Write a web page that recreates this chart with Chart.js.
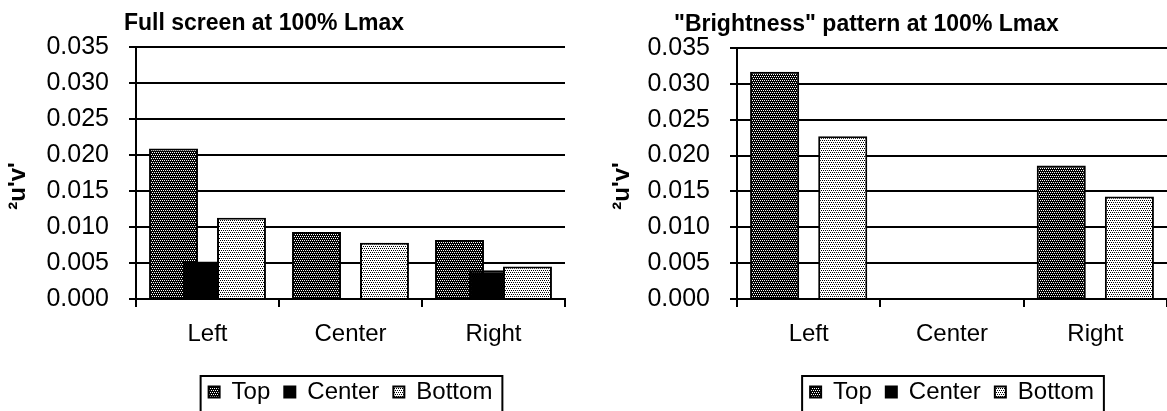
<!DOCTYPE html>
<html>
<head>
<meta charset="utf-8">
<script src="https://cdn.jsdelivr.net/npm/chart.js@4.4.1/dist/chart.umd.min.js"></script>
<style>
  html, body { margin: 0; padding: 0; background: #fff; overflow: hidden; }
  #chart1 { position: absolute; left: 0; top: 0; }
  #chart2 { position: absolute; left: 584px; top: 0; }
</style>
</head>
<body>
<canvas id="chart1" width="584" height="411"></canvas>
<canvas id="chart2" width="583" height="411"></canvas>
<script>
// data
const categories = ["Left", "Center", "Right"];
const seriesNames = ["Top", "Center", "Bottom"];

const fullTop = [0.0209, 0.0093, 0.0082];
const fullCenter = [0.0052, null, 0.0040];
const fullBottom = [0.0113, 0.0078, 0.0045];

const brightTop = [0.0317, null, 0.0186];
const brightCenter = [null, null, null];
const brightBottom = [0.0227, null, 0.0143];

const yMin = 0;
const yMax = 0.035;
const yStep = 0.005;

const fullTitle = "Full screen at 100% Lmax";
const brightTitle = "\"Brightness\" pattern at 100% Lmax";
const yAxisTitle = "²u'v'";

Chart.defaults.font.family = "'Liberation Sans', Arial, sans-serif";
Chart.defaults.color = "#000";

// small dotted fills like the old excel patterns
function dotPattern(canvas, bg, fg, dots) {
  const tile = document.createElement("canvas");
  tile.width = 4;
  tile.height = 4;
  const g = tile.getContext("2d");
  g.fillStyle = bg;
  g.fillRect(0, 0, 4, 4);
  g.fillStyle = fg;
  dots.forEach(([x, y]) => g.fillRect(x, y, 1, 1));
  return canvas.getContext("2d").createPattern(tile, "repeat");
}

// later series sit on top of earlier ones (excel overlap)
const drawInOrder = {
  id: "drawInOrder",
  beforeDatasetsDraw(chart) {
    chart.getSortedVisibleDatasetMetas().forEach((meta) => chart._drawDataset(meta));
    return false;
  },
};

// chart title, rotated y title and the frame round the legend
const captions = {
  id: "captions",
  afterDraw(chart, args, opts) {
    const ctx = chart.ctx;
    ctx.save();
    ctx.fillStyle = "#000";
    ctx.font = "bold 23px 'Liberation Sans', Arial, sans-serif";
    ctx.textAlign = "left";
    ctx.textBaseline = "alphabetic";
    ctx.fillText(opts.title, opts.titleX, opts.titleY);

    ctx.save();
    ctx.translate(opts.yTitleX, opts.yTitleY);
    ctx.rotate(-Math.PI / 2);
    ctx.textAlign = "center";
    ctx.textBaseline = "middle";
    ctx.font = "bold 24px 'Liberation Sans', Arial, sans-serif";
    ctx.fillText(opts.yTitle, 0, 0);
    ctx.restore();

    const boxes = chart.legend.legendHitBoxes;
    const left = Math.min(...boxes.map((b) => b.left)) - 8;
    const right = Math.max(...boxes.map((b) => b.left + b.width)) + 10;
    const mid = boxes[0].top + boxes[0].height / 2;
    ctx.strokeStyle = "#000";
    ctx.lineWidth = 2;
    ctx.strokeRect(left, mid - 16, right - left, 60);
    ctx.restore();
  },
};

function makeChart(id, top, center, bottom, title, layout) {
  const canvas = document.getElementById(id);
  const topFill = dotPattern(canvas, "#000", "#fff", [[0, 0], [2, 0], [1, 2], [3, 2]]);
  const bottomFill = dotPattern(canvas, "#fff", "#000", [[0, 0], [2, 0], [1, 2], [3, 2]]);
  const fills = [topFill, "#000", bottomFill];
  const values = [top, center, bottom];

  return new Chart(canvas, {
    type: "bar",
    data: {
      labels: categories,
      datasets: seriesNames.map((name, i) => ({
        label: name,
        data: values[i],
        backgroundColor: fills[i],
        borderColor: "#000",
        borderWidth: 2,
        categoryPercentage: 0.713,
        barPercentage: 1.44,
      })),
    },
    options: {
      responsive: false,
      animation: false,
      layout: {
        padding: { top: layout.top, right: layout.right, bottom: -3, left: 0 },
      },
      scales: {
        x: {
          grid: {
            drawOnChartArea: false,
            drawTicks: true,
            tickLength: 8,
            color: "#000",
            lineWidth: 2,
            offset: true,
          },
          border: { color: "#000", width: 2 },
          ticks: { color: "#000", font: { size: 24 }, padding: 13 },
          afterFit(scale) {
            scale.height = 67;
          },
        },
        y: {
          min: yMin,
          max: yMax,
          ticks: {
            stepSize: yStep,
            color: "#000",
            font: { size: 25 },
            padding: 20,
            callback: (v) => v.toFixed(3),
          },
          grid: { color: "#000", lineWidth: 2, tickLength: 7 },
          border: { color: "#000", width: 2 },
          afterFit(scale) {
            scale.width = layout.yWidth;
          },
        },
      },
      plugins: {
        tooltip: { enabled: false },
        legend: {
          position: "bottom",
          fullSize: false,
          labels: {
            color: "#000",
            font: { size: 24 },
            boxWidth: 11,
            boxHeight: 11,
            padding: 14,
          },
        },
        captions: {
          title: title,
          titleX: layout.titleX,
          titleY: layout.titleY,
          yTitle: yAxisTitle,
          yTitleX: layout.yTitleX,
          yTitleY: 186,
        },
      },
    },
    plugins: [drawInOrder, captions],
  });
}

makeChart("chart1", fullTop, fullCenter, fullBottom, fullTitle, {
  top: 47, right: 19, yWidth: 136, titleX: 124, titleY: 30, yTitleX: 18,
});
makeChart("chart2", brightTop, brightCenter, brightBottom, brightTitle, {
  top: 48, right: 0, yWidth: 153, titleX: 90, titleY: 31, yTitleX: 38,
});
</script>
</body>
</html>
